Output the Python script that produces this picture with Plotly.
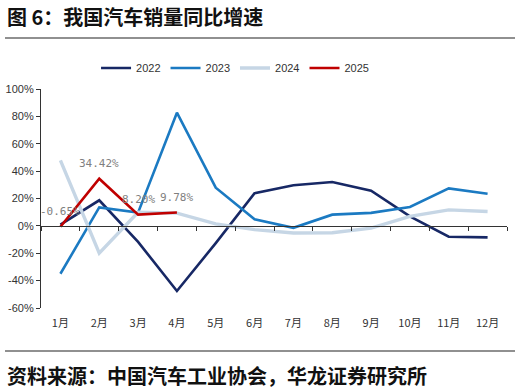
import plotly.graph_objects as go

months = ["1月", "2月", "3月", "4月", "5月", "6月", "7月", "8月", "9月", "10月", "11月", "12月"]
y2022 = [0.9, 18.7, -11.7, -47.6, -12.6, 23.8, 29.7, 32.1, 25.7, 6.9, -7.9, -8.4]
y2023 = [-35.0, 13.5, 9.7, 82.7, 27.9, 4.8, -1.4, 8.2, 9.5, 13.8, 27.4, 23.5]
y2024 = [47.9, -19.9, 9.9, 9.3, 1.5, -2.7, -5.2, -5.0, -1.7, 7.0, 11.7, 10.5]
y2025 = [-0.65, 34.42, 8.20, 9.78]
labels2025 = ["-0.65%", "34.42%", "8.20%", "9.78%"]
yticks = [-60, -40, -20, 0, 20, 40, 60, 80, 100]

series = [
    ("2022", y2022, "#172865", 2.6),
    ("2023", y2023, "#1B7AC2", 2.6),
    ("2024", y2024, "#C6D6E5", 3.4),
    ("2025", y2025, "#C00000", 2.6),
]

xs = list(range(1, len(months) + 1))
fig = go.Figure()
for name, vals, color, w in series:
    fig.add_trace(go.Scatter(
        x=xs[:len(vals)], y=vals, mode="lines", name=name,
        line=dict(color=color, width=w), hoverinfo="skip"))

for xv, yv, t in zip(xs, y2025, labels2025):
    fig.add_annotation(x=xv, y=yv, text=t, showarrow=False, yshift=15,
                       font=dict(family="DejaVu Sans Mono, Noto Sans CJK SC", size=11, color="#7F7F7F"))

ymin, ymax = yticks[0], yticks[-1]
m_t, m_b = 89, 83
H = 391
zero_frac = (0 - ymin) / (ymax - ymin)

fig.update_layout(
    width=520, height=391,
    margin=dict(l=41, r=13, t=m_t, b=m_b, autoexpand=False),
    paper_bgcolor="white", plot_bgcolor="white",
    font=dict(family="Liberation Sans, Noto Sans CJK SC", size=11, color="#333333"),
    showlegend=True,
    legend=dict(orientation="h", xref="container", yref="container",
                x=0.452, y=1 - 68 / H, xanchor="center", yanchor="middle",
                font=dict(size=11, color="#333333"), itemwidth=30, tracegroupgap=0,
                bgcolor="rgba(0,0,0,0)"),
    xaxis=dict(range=[0.5, 12.5], tickvals=xs, ticktext=months, showline=False,
               showgrid=False, zeroline=False, ticks="", ticklabelstandoff=7,
               tickfont=dict(family="Noto Sans CJK SC", size=11, color="#333333")),
    xaxis2=dict(range=[0.5, 12.5], overlaying="x", anchor="free", position=zero_frac,
                side="bottom", showline=True, linecolor="#333333", linewidth=1.2,
                ticks="outside", ticklen=4, tickcolor="#333333",
                tickvals=[i + 0.5 for i in range(0, 13)], showticklabels=False,
                showgrid=False, zeroline=False),
    yaxis=dict(range=[ymin, ymax], tickvals=yticks, ticktext=[f"{v}%" for v in yticks],
               showline=True, linecolor="#333333", linewidth=1.2, ticks="outside",
               ticklen=4, tickcolor="#333333", showgrid=False, zeroline=False,
               tickfont=dict(size=11, color="#333333")),
)
# invisible trace to make xaxis2 render
fig.add_trace(go.Scatter(x=[xs[0]], y=[None], xaxis="x2", showlegend=False, hoverinfo="skip"))

fig.add_annotation(text="<b>图 6：我国汽车销量同比增速</b>", xref="paper", yref="paper",
                   x=-36 / 466, y=1 + (m_t - 16) / (H - m_t - m_b), xanchor="left", yanchor="middle",
                   showarrow=False, font=dict(family="Noto Sans CJK SC", size=20, color="#111111"))
fig.add_annotation(text="<b>资料来源：中国汽车工业协会，华龙证券研究所</b>", xref="paper", yref="paper",
                   x=-36 / 466, y=-(375 - (H - m_b)) / (H - m_t - m_b), xanchor="left", yanchor="middle",
                   showarrow=False, font=dict(family="Noto Sans CJK SC", size=20, color="#111111"))
fig.add_shape(type="line", xref="paper", yref="paper", x0=-36 / 466, x1=1 + 8 / 466,
              y0=1 + (m_t - 38) / (H - m_t - m_b), y1=1 + (m_t - 38) / (H - m_t - m_b),
              line=dict(color="#222222", width=1.2))
fig.add_shape(type="line", xref="paper", yref="paper", x0=-36 / 466, x1=1 + 8 / 466,
              y0=-(351 - (H - m_b)) / (H - m_t - m_b), y1=-(351 - (H - m_b)) / (H - m_t - m_b),
              line=dict(color="#222222", width=1.2))

fig.write_html("out.html")
